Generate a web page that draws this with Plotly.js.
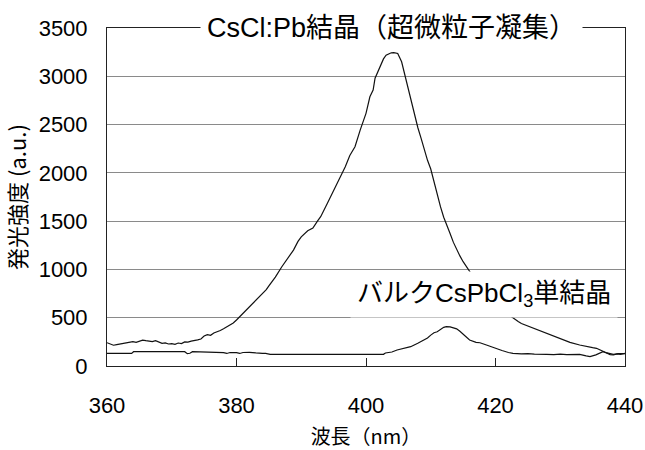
<!DOCTYPE html>
<html>
<head>
<meta charset="utf-8">
<script src="https://cdn.plot.ly/plotly-3.0.1.min.js"></script>
<style>html,body{margin:0;padding:0;background:#fff;}</style>
</head>
<body>
<div id="chart" style="width:645px;height:450px;"></div>
<script>
// CsCl:Pb crystal (ultrafine particle aggregate)
var wlA = [360,360.5,361,361.5,362,362.5,363,363.5,364,364.5,365,365.5,366,366.5,367,367.5,368,368.5,369,369.5,370,370.5,371,371.5,372,372.5,373,373.5,374,374.5,375,375.5,376,376.5,377,377.5,378,378.5,379,379.5,380,380.5,381,381.5,382,383,384,384.6,385,386,387,388,388.8,389.5,390,391,391.8,392.5,393,394,394.9,395.5,396,396.8,397.5,398.3,399.1,400,400.6,401.1,401.4,402.2,402.7,403.1,403.5,403.9,404.3,404.9,405.5,406,406.5,407,407.5,408,408.5,409,409.5,410,410.5,411,411.5,412,412.5,413,413.5,414,414.5,415,415.5,416,417,418,419,420,421,422,422.7,423.5,424,425.3,426,427,427.9,429,430,430.5,431.5,433,434,435,435.6,436.2,436.6,437.2,437.7,438.2,438.8,439.3,440];
var intA = [241,225,215,222,228,232,240,248,252,245,260,268,262,258,252,262,245,235,240,228,232,225,238,232,250,248,258,262,270,280,310,325,318,342,352,368,385,405,418,445,476,510,545,580,620,680,750,790,830,920,1028,1120,1200,1290,1338,1400,1428,1500,1546,1680,1804,1900,1970,2063,2180,2271,2443,2616,2788,2857,2980,3098,3180,3219,3230,3243,3245,3236,3150,3010,2860,2730,2600,2470,2360,2230,2130,2040,1900,1770,1650,1540,1460,1370,1280,1200,1140,1080,1028,975,880,790,710,640,580,530,493,460,440,407,390,360,338,310,285,269,245,217,200,190,183,165,150,131,118,114,125,120,131];

// Bulk CsPbCl3 single crystal
var wlB = [360,361,362,363,363.8,364.1,365,366,367,368,369,370,371,372,372.4,372.8,373.2,374,375,376,377,378,378.5,379,380,380.5,381,382,383,383.6,384,384.5,385.2,387,390,393,396,399,401,402,402.7,403,404,404.8,405.5,406,406.9,408,408.8,409.5,410,410.5,411,411.5,412,412.4,413,413.5,414,414.5,415,415.5,416,417,417.6,418.6,419.5,420.2,421,422,422.7,424,425,426,427,427.9,429,430,431,432,433,434,434.6,435.5,436.6,437.2,438.2,439,439.7,440];
var intB = [131,131,131,131,131,148,148,146,148,148,147,148,146,148,128,132,148,146,148,146,140,138,130,140,138,130,140,142,135,128,131,131,121,121,121,121,121,121,121,121,121,135,145,166,175,185,200,235,262,290,320,345,355,380,400,407,405,395,385,360,330,305,269,245,241,217,195,173,160,140,131,125,128,122,124,121,118,122,118,122,121,105,97,115,148,135,121,128,131,128];

var xTicks = [360,380,400,420,440];
var yTicks = [0,500,1000,1500,2000,2500,3000,3500];
var titleA = 'CsCl:Pb結晶（超微粒子凝集）';
var titleB = 'バルクCsPbCl<sub>3</sub>単結晶';
var xTitle = '波長（nm）';
var yTitle = '発光強度 (a.u.)';

var FONT = 'Liberation Sans, Arial, Noto Sans CJK JP, sans-serif';
var CJK = 'Noto Sans CJK JP, Liberation Sans, sans-serif';

var traces = [
  {x: wlA, y: intA, mode: 'lines', line: {color: '#111', width: 1.2}, hoverinfo: 'skip'},
  {x: wlB, y: intB, mode: 'lines', line: {color: '#111', width: 1.2}, hoverinfo: 'skip'}
];

var layout = {
  width: 645, height: 450,
  margin: {l: 107, r: 20, t: 28, b: 84},
  paper_bgcolor: '#fff', plot_bgcolor: '#fff',
  showlegend: false,
  font: {family: FONT, color: '#000', size: 20},
  xaxis: {
    range: [360, 440], tickvals: xTicks, ticktext: xTicks.map(String),
    showgrid: false, zeroline: false,
    showline: true, linecolor: '#222', linewidth: 1, mirror: true,
    ticks: 'inside', ticklen: 8, tickcolor: '#222', tickwidth: 1,
    ticklabelstandoff: 20,
    tickfont: {family: FONT, size: 22},
    title: {text: xTitle, font: {family: CJK, size: 20}, standoff: 13},
    automargin: false, fixedrange: true
  },
  yaxis: {
    range: [0, 3500], tickvals: yTicks, ticktext: yTicks.map(String),
    showgrid: true, gridcolor: '#8a8a8a', gridwidth: 1, zeroline: false,
    showline: true, linecolor: '#222', linewidth: 1, mirror: true,
    ticks: '', ticklabelstandoff: 14,
    tickfont: {family: FONT, size: 22},
    title: {text: yTitle, font: {family: CJK, size: 22}, standoff: 5},
    automargin: false, fixedrange: true
  },
  annotations: [
    {x: 0.55, y: 1, xref: 'paper', yref: 'paper', xanchor: 'center', yanchor: 'middle',
     text: titleA, showarrow: false, bgcolor: '#fff', borderpad: 6,
     font: {family: FONT, size: 27, color: '#000'}},
    {x: 0.728, y: 0.211, xref: 'paper', yref: 'paper', xanchor: 'center', yanchor: 'middle',
     text: titleB, showarrow: false, bgcolor: '#fff', borderpad: 6,
     font: {family: FONT, size: 26, color: '#000'}}
  ]
};

Plotly.newPlot('chart', traces, layout, {staticPlot: true, displayModeBar: false});
</script>
</body>
</html>
